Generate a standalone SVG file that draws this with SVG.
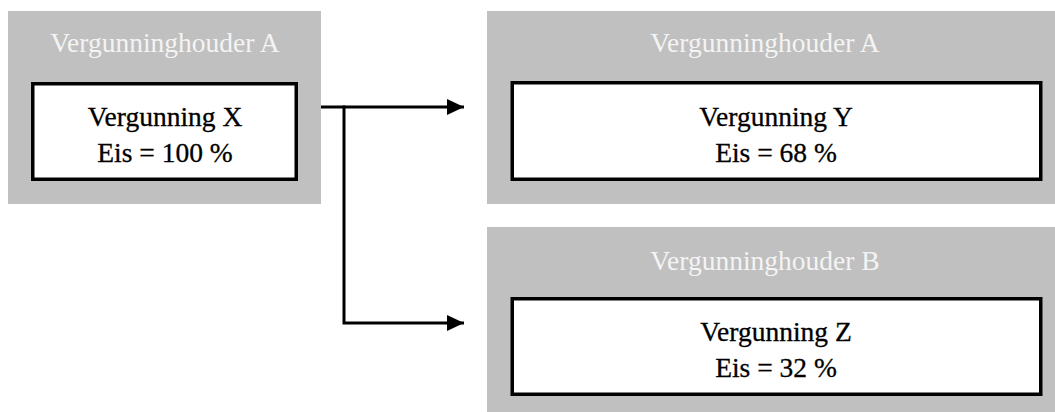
<svg xmlns="http://www.w3.org/2000/svg" width="1055" height="412" viewBox="0 0 1055 412">
  <style>
    .holder { fill: #c0c0c0; }
    .permit { fill: #ffffff; stroke: #000000; stroke-width: 3.5; }
    .head { font-family: "Liberation Serif", "Times New Roman", serif; font-size: 27.5px; fill: #f4f4f4; text-anchor: middle; }
    .label { font-family: "Liberation Serif", "Times New Roman", serif; font-size: 27.5px; fill: #000000; text-anchor: middle; stroke: #000000; stroke-width: 0.3; }
    .link { fill: none; stroke: #000000; stroke-width: 3; }
  </style>
  <defs>
    <marker id="arrow" viewBox="0 0 17 16" refX="17" refY="8" markerWidth="17" markerHeight="16" markerUnits="userSpaceOnUse" orient="auto">
      <path d="M0,0 L17,8 L0,16 Z" fill="#000000"/>
    </marker>
  </defs>

  <!-- Source holder with permit X -->
  <g id="holder-a-source">
    <rect class="holder" x="8" y="11" width="313" height="193"/>
    <text class="head" x="165" y="52">Vergunninghouder A</text>
    <rect class="permit" x="32.75" y="83.75" width="263.5" height="95.5"/>
    <text class="label" x="165" y="126">Vergunning X</text>
    <text class="label" x="165" y="162">Eis = 100 %</text>
  </g>

  <!-- Holder A keeping permit Y -->
  <g id="holder-a-target">
    <rect class="holder" x="487" y="11" width="568" height="193"/>
    <text class="head" x="765" y="52">Vergunninghouder A</text>
    <rect class="permit" x="512.25" y="82.75" width="528.5" height="96.5"/>
    <text class="label" x="776" y="126">Vergunning Y</text>
    <text class="label" x="776" y="162">Eis = 68 %</text>
  </g>

  <!-- Holder B receiving permit Z -->
  <g id="holder-b-target">
    <rect class="holder" x="487" y="227" width="568" height="185"/>
    <text class="head" x="765" y="270">Vergunninghouder B</text>
    <rect class="permit" x="512.25" y="298.75" width="528.5" height="95.5"/>
    <text class="label" x="776" y="341">Vergunning Z</text>
    <text class="label" x="776" y="377">Eis = 32 %</text>
  </g>

  <!-- Split connectors -->
  <g id="connectors">
    <path class="link" d="M321,107 L464,107" marker-end="url(#arrow)"/>
    <path class="link" d="M344,105.5 L344,323 L464,323" marker-end="url(#arrow)"/>
  </g>
</svg>
